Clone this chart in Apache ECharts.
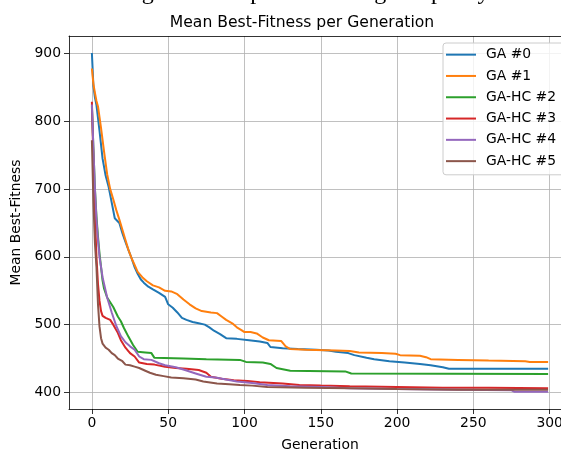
<!DOCTYPE html>
<html>
<head>
<meta charset="utf-8">
<script src="https://cdn.jsdelivr.net/npm/echarts@6/dist/echarts.min.js"></script>
<style>html,body{margin:0;padding:0;background:#fff;}#c{width:561px;height:453px;}</style>
</head>
<body>
<div id="c"></div>
<script>
const seriesNames = ['GA #0', 'GA #1', 'GA-HC #2', 'GA-HC #3', 'GA-HC #4', 'GA-HC #5'];
const xTicks = [0, 50, 100, 150, 200, 250, 300];
const yTicks = [400, 500, 600, 700, 800, 900];

const ga0 = [[0,901],[1,852],[2,835],[3,824],[5,786],[7,745],[9,720],[11,703],[13,680],[15,657],[16,655],[18,650],[20,635],[22,622],[24,610],[26,598],[28,585],[30,575],[32,567],[34,562],[37,556],[40,552],[44,547],[48,541],[50,530],[53,525],[56,518],[59,510],[62,507],[66,504],[70,502],[74,500],[77,496],[80,491],[84,486],[88,480],[95,479],[103,477],[110,475],[115,473],[117,467],[125,465],[135,464],[147,463],[155,462],[160,460],[168,458],[172,455],[180,451],[185,449],[195,446],[205,444],[215,442],[222,440],[230,437],[234,435],[299,435]];
const ga1 = [[0,878],[1,855],[2,842],[3,830],[4,822],[6,790],[8,755],[10,722],[12,700],[14,685],[16,669],[18,655],[20,640],[22,625],[24,610],[26,598],[28,588],[30,578],[33,570],[36,564],[40,558],[44,555],[48,550],[52,549],[56,545],[60,537],[64,530],[68,524],[72,520],[78,518],[82,517],[85,512],[88,507],[92,502],[95,496],[98,492],[100,489],[104,489],[108,487],[112,481],[116,477],[124,476],[127,468],[130,464],[140,463],[160,462],[169,461],[175,459],[190,458],[199,457],[202,455],[215,454],[219,452],[222,449],[240,448],[260,447],[284,446],[287,445],[299,445]];
const gahc2 = [[0,822],[1,760],[2,700],[3,660],[4,630],[5,605],[6,585],[7,565],[8,553],[10,540],[12,533],[14,526],[17,512],[19,505],[21,495],[24,482],[27,470],[30,460],[35,459],[39,458],[41,451],[60,450],[75,449],[97,448],[101,445],[112,444],[117,442],[121,436],[130,432],[166,431],[170,428],[299,427]];
const gahc3 = [[0,829],[1,740],[2,660],[3,600],[4,560],[5,535],[6,520],[7,513],[9,510],[12,507],[14,500],[17,488],[19,477],[22,466],[25,458],[28,453],[31,444],[36,442],[41,441],[48,438],[55,436],[62,435],[70,433],[75,429],[78,423],[85,420],[93,418],[102,417],[110,415],[125,413],[136,411],[150,410],[169,409],[200,408],[230,407],[260,407],[299,406]];
const gahc4 = [[0,825],[1,760],[2,700],[3,655],[4,625],[5,600],[6,585],[7,570],[8,560],[10,540],[13,518],[16,498],[19,483],[22,474],[25,468],[28,463],[31,453],[34,449],[39,448],[44,443],[48,440],[55,437],[61,433],[68,428],[75,423],[81,422],[88,419],[95,416],[105,414],[115,411],[130,409],[150,408],[169,406],[200,405],[240,404],[275,403],[277,401],[299,401]];
const gahc5 = [[0,772],[1,680],[2,620],[3,585],[4,530],[5,497],[6,480],[7,472],[9,466],[11,463],[13,458],[15,455],[17,450],[20,446],[22,441],[25,440],[28,438],[31,436],[35,432],[38,429],[42,426],[47,424],[52,422],[60,421],[68,419],[73,416],[82,413],[90,412],[97,411],[105,410],[115,408],[140,407],[169,406],[200,405],[240,404],[299,404]];

const allData = [ga0, ga1, gahc2, gahc3, gahc4, gahc5];
const colors = ['#1f77b4', '#ff7f0e', '#2ca02c', '#d62728', '#9467bd', '#8c564b'];

const chart = echarts.init(document.getElementById('c'), null, {renderer: 'canvas'});
const font = 'DejaVu Sans';
chart.setOption({
  animation: false,
  backgroundColor: '#fff',
  color: colors,
  title: {
    text: 'Mean Best-Fitness per Generation',
    left: 297, top: 10, textAlign: 'center',
    textStyle: {fontFamily: font, fontSize: 15.6, fontWeight: 'normal', color: '#000'}
  },
  graphic: [{
    type: 'text', left: 'center', top: -19,
    style: {text: 'Convergence Comparison at High Capacity', fontFamily: 'Liberation Serif', fontSize: 24, fill: '#000'}
  }],
  legend: {
    left: 443, top: 43,
    orient: 'vertical',
    icon: 'rect', itemWidth: 30, itemHeight: 2, itemGap: 0,
    padding: [1, 16, 3, 3],
    backgroundColor: 'rgba(255,255,255,0.8)',
    borderColor: '#cccccc', borderWidth: 1, borderRadius: 3,
    textStyle: {fontFamily: font, fontSize: 13.9, color: '#000', lineHeight: 21.3, padding: [0, 0, 0, 5]},
    data: seriesNames
  },
  grid: {left: 69, top: 36, width: 502, height: 373, show: false, containLabel: false, outerBoundsMode: 'none'},
  xAxis: [{
    type: 'value', min: -15, max: 314,
    name: 'Generation', nameLocation: 'middle', nameGap: 29,
    nameTextStyle: {fontFamily: font, fontSize: 13.9, color: '#000'},
    axisLine: {show: true, onZero: false, lineStyle: {color: '#000', width: 0.8}},
    axisTick: {show: true, length: 5, customValues: xTicks, lineStyle: {color: '#000', width: 0.8}},
    axisLabel: {customValues: xTicks, fontFamily: font, fontSize: 13.9, color: '#000', margin: 7},
    splitLine: {show: true, lineStyle: {color: '#b0b0b0', width: 0.8}}
  }, {
    type: 'value', min: -15, max: 314, position: 'top',
    axisLine: {show: true, onZero: false, lineStyle: {color: '#000', width: 0.8}},
    axisTick: {show: false}, axisLabel: {show: false}, splitLine: {show: false}
  }],
  yAxis: {
    type: 'value', min: 375.5, max: 926,
    name: 'Mean Best-Fitness', nameLocation: 'middle', nameGap: 45,
    nameTextStyle: {fontFamily: font, fontSize: 13.9, color: '#000'},
    axisLine: {show: true, onZero: false, lineStyle: {color: '#000', width: 0.8}},
    axisTick: {show: true, length: 5, customValues: yTicks, lineStyle: {color: '#000', width: 0.8}},
    axisLabel: {customValues: yTicks, fontFamily: font, fontSize: 13.9, color: '#000', margin: 8},
    splitLine: {show: true, lineStyle: {color: '#b0b0b0', width: 0.8}}
  },
  series: seriesNames.map((n, i) => ({
    name: n, type: 'line', xAxisIndex: 0, data: allData[i], showSymbol: false, symbol: 'none',
    lineStyle: {width: 2, color: colors[i]}, itemStyle: {color: colors[i]}
  }))
});
</script>
</body>
</html>
